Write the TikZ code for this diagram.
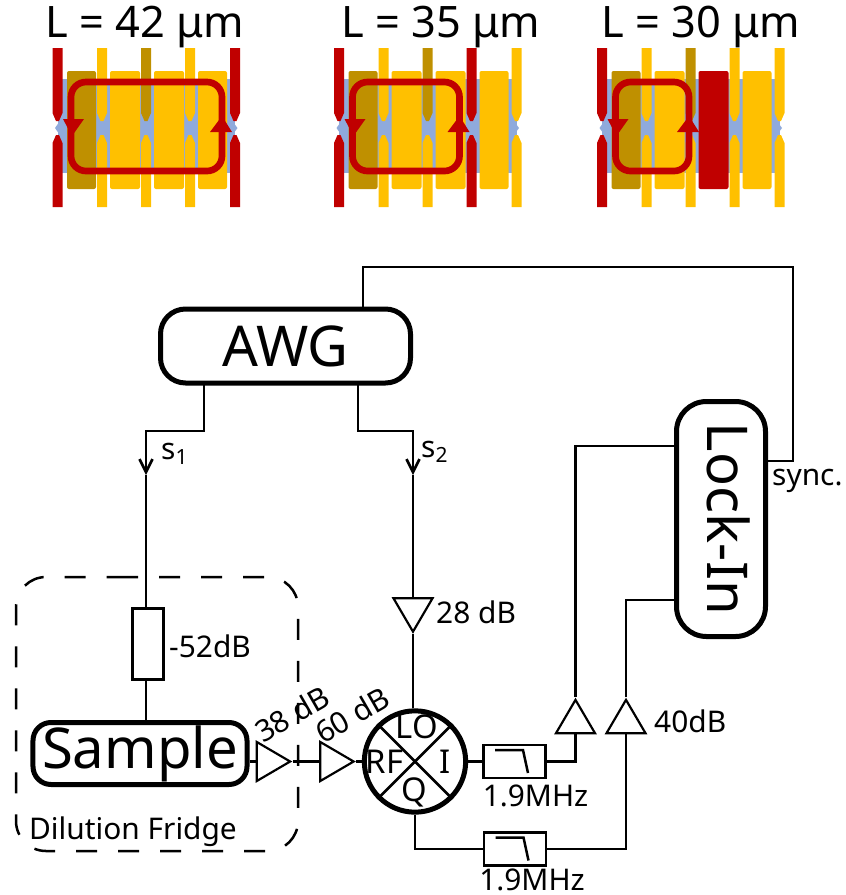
\documentclass[tikz,border=0pt]{standalone}
\usepackage{fontspec}
\setmainfont{Noto Sans}
\usetikzlibrary{shapes.geometric,arrows.meta}
\definecolor{qyellow}{HTML}{FFC000}
\definecolor{qdark}{HTML}{BF9000}
\definecolor{qred}{HTML}{C00000}
\definecolor{qblue}{HTML}{8FAADC}
\tikzset{
  >={Straight Barb[length=3.9mm,width=3.9mm]},
  wire/.style={line width=0.8mm},
  box/.style={draw,line width=1.5mm,rounded corners=#1,inner sep=0pt,fill=white},
  big/.style={font=\fontsize{48}{52}\selectfont},
  title/.style={font=\fontsize{37}{40}\selectfont,anchor=base,inner sep=0pt},
  lbl/.style={font=\fontsize{25.5}{28}\selectfont,inner sep=0pt},
  mixlbl/.style={font=\fontsize{28}{30}\selectfont,inner sep=0pt},
  amp/.style={draw,line width=0.65mm,isosceles triangle,isosceles triangle stretches,
    minimum height=10mm,minimum width=11.7mm,inner sep=0pt,shape border rotate=#1},
  amp/.default=0,
  filterbox/.style={draw,line width=0.75mm,minimum width=18.6mm,minimum height=9.9mm,inner sep=0pt,
    path picture={\draw[line width=0.75mm,shift={(path picture bounding box.center)}]
      (-19.5,-11.5) -- (8.5,-11.5) -- (13.5,11.5);}},
}
% one gate stripe, split at the constriction
\newcommand{\gatestripe}[3]{
  \fill[#2] (#1-5,48) -- (#1+5,48) -- (#1+5,113) -- (#1+1.5,121) -- (#1-1.5,121) -- (#1-5,113) -- cycle;
  \fill[#3] (#1-5,207) -- (#1+5,207) -- (#1+5,143) -- (#1+1.5,135) -- (#1-1.5,135) -- (#1-5,143) -- cycle;
}
% offset, stripe 4, stripe 5, block 3, right side of the loop
\newcommand{\qdevice}[5]{
\begin{scope}[shift={(#1,0)}]
\fill[qblue] (57.5,79) rectangle (235,173);
\fill[qblue] (55,128) -- (62,118) -- (62,138) -- cycle;
\fill[qblue] (237.5,128) -- (230,118) -- (230,138) -- cycle;
\fill[qdark,rounded corners=0.6mm] (67,71) rectangle (96,189);
\fill[qyellow,rounded corners=0.6mm] (110,71) rectangle (140,189);
\fill[#4,rounded corners=0.6mm] (154,71) rectangle (184,189);
\fill[qyellow,rounded corners=0.6mm] (198,71) rectangle (227,189);
\gatestripe{57.5}{qred}{qred}
\gatestripe{102}{qyellow}{qyellow}
\gatestripe{146}{qdark}{qyellow}
\gatestripe{190}{#2}{#2}
\gatestripe{235}{#3}{#3}
\draw[qred,line width=2mm,rounded corners=4.5mm] (71,82) rectangle (#5,171);
\fill[qred] (63,119) -- (84,119) -- (72,136) -- cycle;
\fill[qred] (#5-12,132) -- (#5+10,132) -- (#5,116) -- cycle;
\end{scope}
}
\begin{document}
\begin{tikzpicture}[x=0.3mm,y=-0.3mm]
\useasboundingbox (0,0) rectangle (846,895);

% the three devices
\qdevice{0}{qyellow}{qred}{qyellow}{222}
\qdevice{281.5}{qred}{qyellow}{qyellow}{178}
\qdevice{544.5}{qyellow}{qyellow}{qred}{144.5}
\node[title] (lenA) at (145,37) {L = 42 μm};
\node[title] (lenB) at (441,37) {L = 35 μm};
\node[title] (lenC) at (701,37) {L = 30 μm};

% fridge
\draw[line width=0.75mm,dash pattern=on 6.3mm off 6.3mm,rounded corners=9mm]
  (87,577) -- (298,577) -- (298,851) -- (16,851) -- (16,577) -- cycle;
\node[lbl] (fridge) at (133,832) {Dilution Fridge};

% instruments
\node[box=7.5mm,big,minimum width=75mm,minimum height=22.2mm] (awg) at (285.5,346) {\raisebox{-1.8mm}{AWG}};
\node[box=9mm,big,rotate=-90,minimum width=70.5mm,minimum height=26.7mm] (lockin) at (721,519) {\raisebox{4.8mm}{Lock-In}};
\node[box=5.4mm,big,minimum width=64.2mm,minimum height=18.6mm] (sample) at (140,753.5) {Sample};
\node[draw,line width=0.7mm,minimum width=9.3mm,minimum height=21.3mm,inner sep=0pt] (atten) at (148,644) {};
\node[lbl,anchor=west] (attenlbl) at (169,646) {-52dB};

% amplifiers
\node[amp=0] (ampA) at (268,761.5) {};
\node[amp=0] (ampB) at (331.5,761.5) {};
\node[amp=-90] (ampC) at (413,609.5) {};
\node[amp=90] (ampD) at (575.5,722) {};
\node[amp=90] (ampE) at (626,722) {};
\node[lbl,rotate=30] (ampAlbl) at (292,714) {38 dB};
\node[lbl,rotate=30] (ampBlbl) at (352,715) {60 dB};
\node[lbl,anchor=west] (ampClbl) at (436,612) {28 dB};
\node[lbl,anchor=west] (ampElbl) at (654,721) {40dB};

% mixer
\node[circle,draw,line width=1.5mm,minimum size=30.4mm,inner sep=0pt] (mixer) at (415,761.5) {};
\draw[wire] (mixer.north west) -- (mixer.south east);
\draw[wire] (mixer.north east) -- (mixer.south west);
\node[mixlbl] (lo) at (417,727) {LO};
\node[mixlbl] (rf) at (384.5,762) {RF};
\node[mixlbl] (iout) at (445,762) {I};
\node[mixlbl] (qout) at (414,792) {Q};

% filters
\node[filterbox] (fltI) at (514.5,761.5) {};
\node[filterbox] (fltQ) at (515,849) {};
\node[lbl] (fltIlbl) at (535.5,796) {1.9MHz};
\node[lbl] (fltQlbl) at (532,880) {1.9MHz};

% wires
\coordinate (awgA) at (204,384);
\coordinate (awgB) at (358,384);
\coordinate (awgC) at (363,309);
\coordinate (tipA) at (146,475);
\coordinate (tipB) at (413,475);
\coordinate (cornerA) at (146,431);
\coordinate (cornerB) at (413,431);
\coordinate (lockA) at (676,446);
\coordinate (lockB) at (676,600);
\coordinate (lockC) at (766,461);
\coordinate (syncA) at (793,267);
\draw[wire,->] (awgA) |- (cornerA) -- (tipA);
\draw[wire,->] (awgB) |- (cornerB) -- (tipB);
\draw[wire] (tipA) -- (tipA |- atten.north);
\draw[wire] (tipA |- atten.south) -- (tipA |- sample.north);
\draw[wire] (tipB) -- (ampC.lower side);
\draw[wire] (ampC.apex) -- (ampC.apex |- mixer.north);
\draw[wire] (sample.east |- ampA.lower side) -- (ampA.lower side);
\draw[wire] (ampA.apex) -- (ampB.lower side);
\draw[wire] (ampB.apex) -- (mixer.west);
\draw[wire] (mixer.east) -- (fltI.west);
\draw[wire] (fltI.east) -| (ampD.lower side);
\draw[wire] (mixer.south) |- (fltQ.west);
\draw[wire] (fltQ.east) -| (ampE.lower side);
\draw[wire] (ampD.apex) |- (lockA);
\draw[wire] (ampE.apex) |- (lockB);
\draw[wire] (lockC) -| (syncA) -| (awgC);
\node[lbl,anchor=west] (sone) at (161,454) {s\textsubscript{1}};
\node[lbl,anchor=west] (stwo) at (421,452) {s\textsubscript{2}};
\node[lbl,anchor=west] (sync) at (772,481) {sync.};
\end{tikzpicture}
\end{document}
